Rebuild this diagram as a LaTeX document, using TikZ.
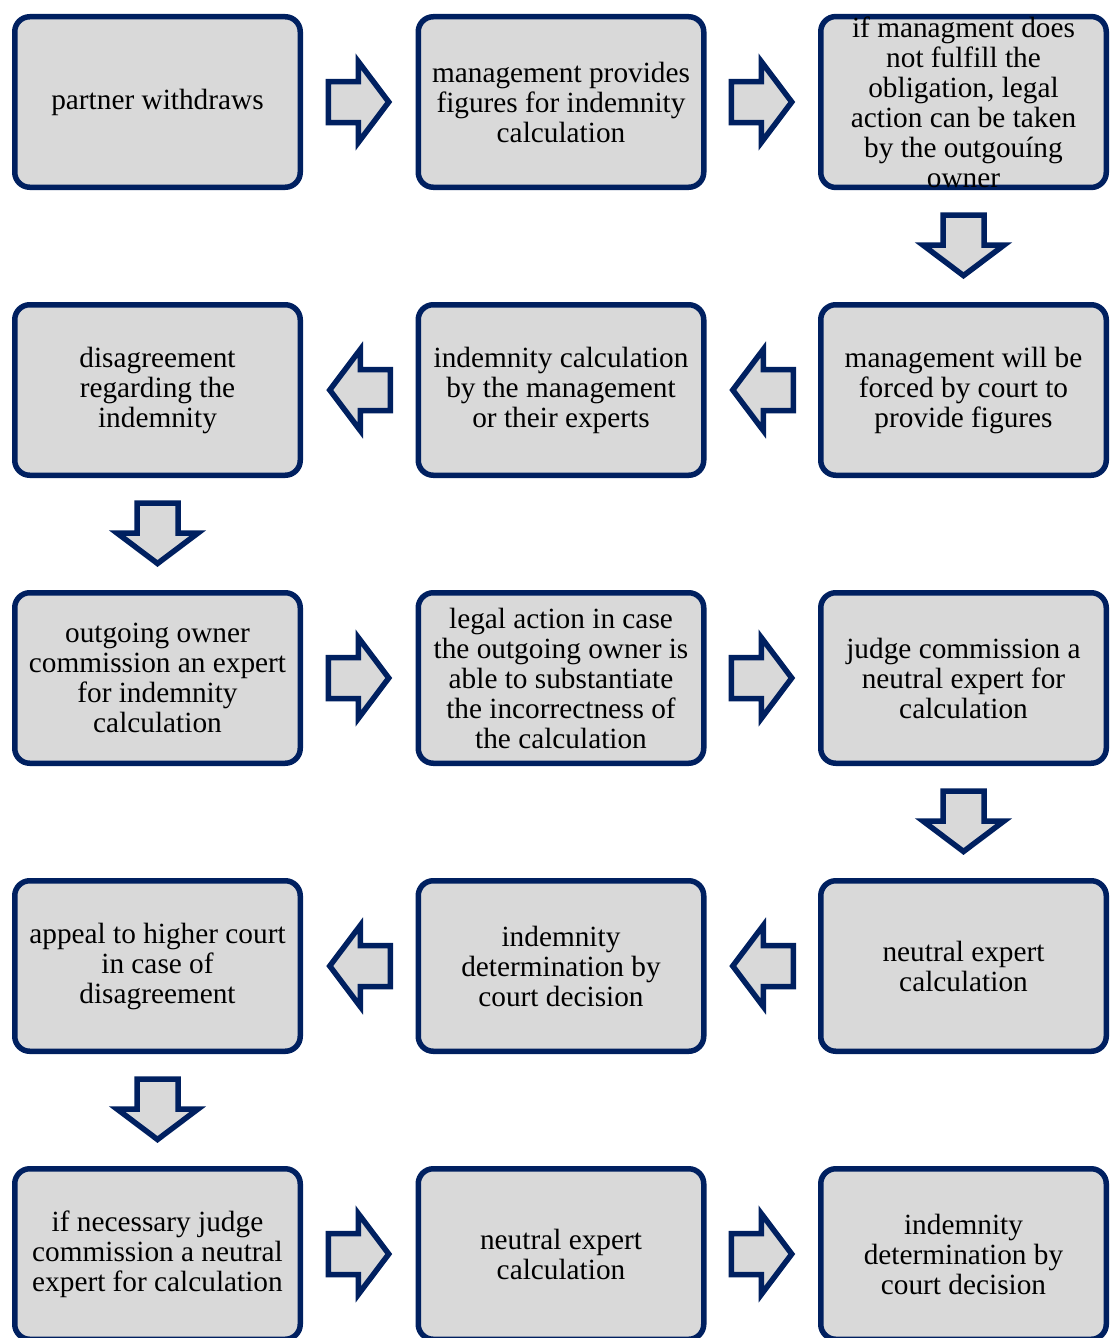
\documentclass[tikz,border=0pt]{standalone}
\usepackage{fontspec}
\setmainfont{Liberation Serif}
\usetikzlibrary{calc}
\definecolor{navy}{HTML}{002060}
\definecolor{boxgray}{HTML}{D9D9D9}

\begin{document}
\begin{tikzpicture}[x=1pt,y=1pt,
  stage/.style={draw=navy, line width=5.5pt, fill=boxgray, rounded corners=15pt,
    minimum width=285.5pt, minimum height=170.5pt, align=center, inner sep=0pt,
    font=\fontsize{29.3}{30}\selectfont},
  arrowline/.style={draw=navy, fill=boxgray, line width=5.5pt, line join=miter},
  blockarrow/.pic={\path[arrowline] (-31,-20.5) -- (-1,-20.5) -- (-1,-40.5) -- (29.5,0)
    -- (-1,40.5) -- (-1,20.5) -- (-31,20.5) -- cycle;}
]
\useasboundingbox (0,0) rectangle (1109,-1338);
\clip (0,0) rectangle (1109,-1338);

% row 1
\node[stage] (r1c1) at (157.5,-102) {partner withdraws};
\node[stage] (r1c2) at (561,-102) {management provides\\figures for indemnity\\calculation};
\node[stage] (r1c3) at (963.5,-102) {if managment does\\not fulfill the\\obligation, legal\\action can be taken\\by the outgouíng\\owner};
% row 2
\node[stage] (r2c3) at (963.5,-390) {management will be\\forced by court to\\provide figures};
\node[stage] (r2c2) at (561,-390) {indemnity calculation\\by the management\\or their experts};
\node[stage] (r2c1) at (157.5,-390) {disagreement\\regarding the\\indemnity};
% row 3
\node[stage] (r3c1) at (157.5,-678) {outgoing owner\\commission an expert\\for indemnity\\calculation};
\node[stage] (r3c2) at (561,-678) {legal action in case\\the outgoing owner is\\able to substantiate\\the incorrectness of\\the calculation};
\node[stage] (r3c3) at (963.5,-678) {judge commission a\\neutral expert for\\calculation};
% row 4
\node[stage] (r4c3) at (963.5,-966) {neutral expert\\calculation};
\node[stage] (r4c2) at (561,-966) {indemnity\\determination by\\court decision};
\node[stage] (r4c1) at (157.5,-966) {appeal to higher court\\in case of\\disagreement};
% row 5
\node[stage] (r5c1) at (157.5,-1254) {if necessary judge\\commission a neutral\\expert for calculation};
\node[stage] (r5c2) at (561,-1254) {neutral expert\\calculation};
\node[stage] (r5c3) at (963.5,-1254) {indemnity\\determination by\\court decision};

% block arrows between consecutive stages
\pic at ($(r1c1.east)!0.5!(r1c2.west)$) {blockarrow};
\pic at ($(r1c2.east)!0.5!(r1c3.west)$) {blockarrow};
\pic[rotate=-90] at ($(r1c3.south)!0.5!(r2c3.north)$) {blockarrow};
\pic[rotate=180] at ($(r2c3.west)!0.5!(r2c2.east)$) {blockarrow};
\pic[rotate=180] at ($(r2c2.west)!0.5!(r2c1.east)$) {blockarrow};
\pic[rotate=-90] at ($(r2c1.south)!0.5!(r3c1.north)$) {blockarrow};
\pic at ($(r3c1.east)!0.5!(r3c2.west)$) {blockarrow};
\pic at ($(r3c2.east)!0.5!(r3c3.west)$) {blockarrow};
\pic[rotate=-90] at ($(r3c3.south)!0.5!(r4c3.north)$) {blockarrow};
\pic[rotate=180] at ($(r4c3.west)!0.5!(r4c2.east)$) {blockarrow};
\pic[rotate=180] at ($(r4c2.west)!0.5!(r4c1.east)$) {blockarrow};
\pic[rotate=-90] at ($(r4c1.south)!0.5!(r5c1.north)$) {blockarrow};
\pic at ($(r5c1.east)!0.5!(r5c2.west)$) {blockarrow};
\pic at ($(r5c2.east)!0.5!(r5c3.west)$) {blockarrow};
\end{tikzpicture}
\end{document}
